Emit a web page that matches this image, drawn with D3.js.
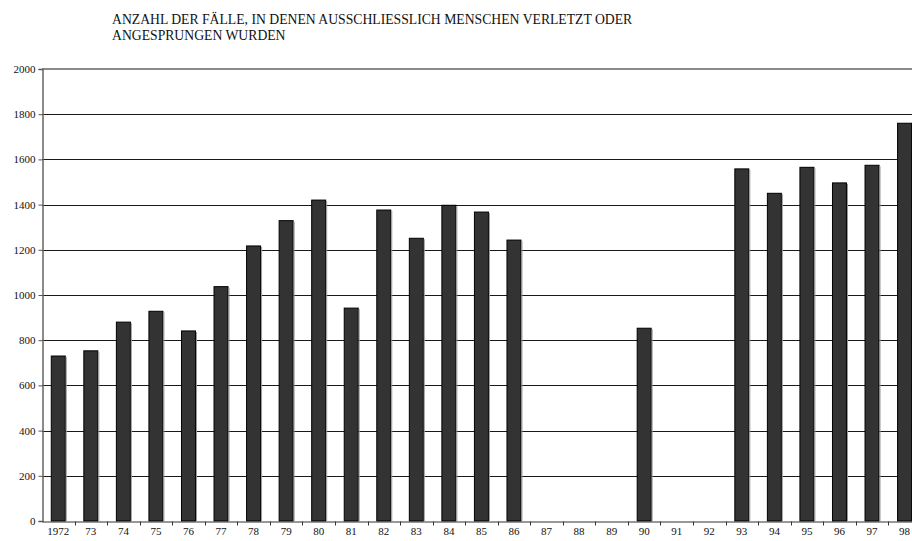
<!DOCTYPE html>
<html>
<head>
<meta charset="utf-8">
<script src="https://cdn.jsdelivr.net/npm/d3@7"></script>
<style>
  body { margin: 0; background: #fff; }
  svg { display: block; }
</style>
</head>
<body>
<div class="chart"></div>
<script>
// data
var years = ['1972','73','74','75','76','77','78','79','80','81','82','83','84','85','86',
             '87','88','89','90','91','92','93','94','95','96','97','98'];
var cases = [730,753,880,928,841,1037,1217,1329,1420,942,1376,1251,1397,1367,1243,
             null,null,null,853,null,null,1558,1450,1565,1496,1574,1760];
var yTicks = [0,200,400,600,800,1000,1200,1400,1600,1800,2000];
var titleLines = ['ANZAHL DER FÄLLE, IN DENEN AUSSCHLIESSLICH MENSCHEN VERLETZT ODER',
                  'ANGESPRUNGEN WURDEN'];

var width = 912, height = 541;
var plotLeft = 42, plotTop = 69, plotBottom = 521;
var step = 32.55;
var serif = '"Liberation Serif", "DejaVu Serif", serif';

var svg = d3.select('.chart')
            .append('svg')
            .attr('width', width)
            .attr('height', height)
            .style('background', '#fff')
            .style('font-family', serif);

var x = d3.scaleBand()
          .domain(years)
          .range([plotLeft, plotLeft + step * years.length])
          .paddingInner(0.57)
          .paddingOuter(0.285);

var y = d3.scaleLinear()
          .domain([0, 2000])
          .range([plotBottom, plotTop]);

// title
svg.append('g')
   .selectAll('text')
   .data(titleLines)
   .enter()
   .append('text')
   .attr('x', 112)
   .attr('y', function(d, i) { return 23.5 + i * 16.5; })
   .style('font-size', '13.7px')
   .style('fill', '#111')
   .text(function(d) { return d; });

// gridlines
svg.append('g')
   .selectAll('line')
   .data(yTicks.slice(1, -1))
   .enter()
   .append('line')
   .attr('x1', plotLeft)
   .attr('x2', width)
   .attr('y1', function(d) { return Math.round(y(d)) + 0.5; })
   .attr('y2', function(d) { return Math.round(y(d)) + 0.5; })
   .attr('stroke', '#1a1a1a')
   .attr('stroke-width', 1);

// top frame line
svg.append('line')
   .attr('x1', plotLeft)
   .attr('x2', width)
   .attr('y1', y(2000))
   .attr('y2', y(2000))
   .attr('stroke', '#8a8a8a')
   .attr('stroke-width', 2);

var barData = years.map(function(yr, i) { return { year: yr, v: cases[i] }; })
                   .filter(function(d) { return d.v !== null; });

// bars
var bars = svg.append('g');
bars.selectAll('rect')
   .data(barData)
   .enter()
   .append('rect')
   .attr('x', function(d) { return x(d.year); })
   .attr('width', x.bandwidth())
   .attr('y', function(d) { return y(d.v); })
   .attr('height', function(d) { return y(0) - y(d.v); })
   .attr('fill', '#333')
   .attr('stroke', '#000')
   .attr('stroke-width', 1);

// light edge on the right side of each bar
bars.selectAll('line')
   .data(barData)
   .enter()
   .append('line')
   .attr('x1', function(d) { return x(d.year) + x.bandwidth() + 1; })
   .attr('x2', function(d) { return x(d.year) + x.bandwidth() + 1; })
   .attr('y1', function(d) { return y(d.v) + 1; })
   .attr('y2', y(0))
   .attr('stroke', '#999')
   .attr('stroke-width', 1);

// y axis
var yAxis = d3.axisLeft(y)
              .tickValues(yTicks)
              .tickSize(4)
              .tickPadding(3)
              .tickFormat(d3.format('d'));
var gy = svg.append('g')
            .attr('transform', 'translate(' + (plotLeft + 0.5) + ',0)')
            .call(yAxis);
gy.select('.domain').attr('stroke', '#666').attr('stroke-width', 1.5);
gy.selectAll('.tick line').attr('stroke', '#555');
gy.selectAll('text')
  .style('font-family', serif)
  .style('font-size', '11px')
  .attr('fill', '#111');

// x axis
var xAxis = d3.axisBottom(x)
              .tickSize(0)
              .tickPadding(6);
var gx = svg.append('g')
            .attr('transform', 'translate(0,' + (Math.round(y(0)) + 0.5) + ')')
            .call(xAxis);
gx.select('.domain').attr('stroke', '#333');
gx.selectAll('text')
  .style('font-family', serif)
  .style('font-size', '11px')
  .attr('fill', '#111');

// tick marks between categories
gx.selectAll('.sep')
  .data(years.slice(1))
  .enter()
  .append('line')
  .attr('class', 'sep')
  .attr('x1', function(d) { return Math.round(x(d) - x.step() * x.paddingOuter()) + 0.5; })
  .attr('x2', function(d) { return Math.round(x(d) - x.step() * x.paddingOuter()) + 0.5; })
  .attr('y1', 0)
  .attr('y2', 4)
  .attr('stroke', '#333');
</script>
</body>
</html>
